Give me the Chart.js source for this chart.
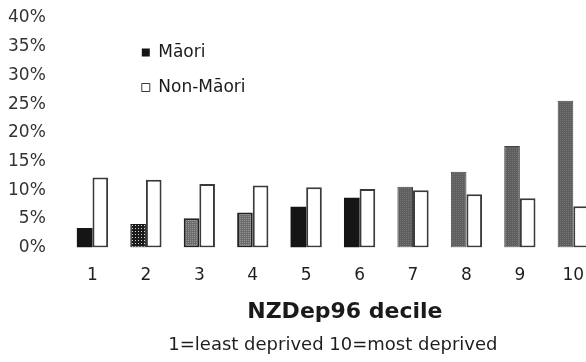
<!DOCTYPE html>
<html lang="en">
<head>
  <meta charset="UTF-8" />
  <title>NZDep96 decile - Māori / Non-Māori</title>
  <script src="https://cdn.jsdelivr.net/npm/chart.js"></script>
  <style>
    body {
      margin: 0;
      background: #fff;
      overflow: hidden;
    }

    .chart-container {
      width: 610px;
      height: 362px;
    }
  </style>
</head>
<body>
  <div class="chart-container">
    <canvas id="depChart"></canvas>
  </div>

  <script>
    const deciles = ['1', '2', '3', '4', '5', '6', '7', '8', '9', '10'];
    const maoriValues = [3.4, 4.1, 5.1, 6.1, 7.1, 8.7, 10.6, 13.2, 17.7, 25.6];
    const nonMaoriValues = [12.2, 11.8, 11.1, 10.8, 10.5, 10.2, 10.0, 9.3, 8.6, 7.2];
    const yTicks = [0, 5, 10, 15, 20, 25, 30, 35, 40];

    const FONT = "'DejaVu Sans', sans-serif";

    // small fill textures like the scanned original
    function makePattern(bg, dot, step) {
      const c = document.createElement('canvas');
      c.width = c.height = step;
      const x = c.getContext('2d');
      x.fillStyle = bg;
      x.fillRect(0, 0, step, step);
      x.fillStyle = dot;
      x.fillRect(0, 0, 1, 1);
      return x.createPattern(c, 'repeat');
    }

    const black = '#151515';
    const checker = makePattern('#1a1a1a', '#d8d8d8', 3);
    const dotted = makePattern('#6c6c6c', '#959595', 2);
    const grey = makePattern('#5e5e5e', '#747474', 2);

    const maoriFill = [black, checker, dotted, dotted, black, black, grey, grey, grey, grey];
    const maoriBorder = ['#151515', '#151515', '#222', '#222', '#151515', '#151515', '#444', '#444', '#444', '#444'];
    const maoriBorderWidth = [0, 1, 2, 2, 0, 0, 1, 1, 1, 1];

    // legend lives inside the plot, nudge it to where the original has it;
    // the axis title in the original sits a bit right of the plot centre
    const layoutNudge = {
      id: 'layoutNudge',
      afterLayout(chart) {
        const area = chart.chartArea;
        chart.legend.left = area.left + 58;
        chart.legend.top = area.top + 8;
        chart.scales.x.right += 24;
      }
    };

    new Chart(document.getElementById('depChart'), {
      type: 'bar',
      data: {
        labels: deciles,
        datasets: [
          {
            label: 'Māori',
            data: maoriValues,
            backgroundColor: maoriFill,
            borderColor: maoriBorder,
            borderWidth: maoriBorderWidth,
            borderSkipped: false
          },
          {
            label: 'Non-Māori',
            data: nonMaoriValues,
            backgroundColor: '#ffffff',
            borderColor: '#3a3a3a',
            borderWidth: 2,
            borderSkipped: false
          }
        ]
      },
      options: {
        responsive: true,
        maintainAspectRatio: false,
        devicePixelRatio: 1,
        animation: false,
        layout: {
          padding: { left: 8, right: 10, top: 18, bottom: 6 }
        },
        datasets: {
          bar: {
            categoryPercentage: 0.585,
            barPercentage: 1.0
          }
        },
        plugins: {
          legend: {
            position: 'chartArea',
            align: 'start',
            labels: {
              boxWidth: 8,
              boxHeight: 8,
              padding: 18,
              color: '#1a1a1a',
              font: { family: FONT, size: 17 },
              generateLabels(chart) {
                const items = Chart.defaults.plugins.legend.labels.generateLabels(chart);
                items[0].fillStyle = '#151515';
                items[0].lineWidth = 0;
                items[1].lineWidth = 1;
                return items;
              }
            }
          },
          subtitle: {
            display: true,
            position: 'bottom',
            fullSize: false,
            text: '1=least deprived 10=most deprived',
            color: '#1e1e1e',
            font: { family: FONT, size: 18, weight: 'normal' },
            padding: { top: 6, bottom: 0 }
          },
          tooltip: { enabled: false }
        },
        scales: {
          x: {
            grid: { display: false, drawTicks: false },
            border: { display: false },
            ticks: {
              color: '#1e1e1e',
              padding: 18,
              font: { family: FONT, size: 17 }
            },
            title: {
              display: true,
              text: 'NZDep96 decile',
              color: '#1a1a1a',
              font: { family: FONT, size: 22, weight: 'bold' },
              padding: { top: 13, bottom: 3 }
            },
            afterFit(scale) {
              // tick padding is counted twice by the fit; keep it once
              scale.height -= scale.options.ticks.padding;
              scale.paddingLeft = 0;
              scale.paddingRight = 0;
            }
          },
          y: {
            min: 0,
            max: 40,
            grid: { display: false, drawTicks: false },
            border: { display: false },
            afterBuildTicks(scale) {
              scale.ticks = yTicks.map(v => ({ value: v }));
            },
            ticks: {
              color: '#333',
              padding: 20,
              font: { family: FONT, size: 17 },
              callback: v => v + '%'
            },
            afterFit(scale) {
              scale.width -= scale.options.ticks.padding;
              scale.paddingTop = 0;
              scale.paddingBottom = 0;
            }
          }
        }
      },
      plugins: [layoutNudge]
    });
  </script>
</body>
</html>
